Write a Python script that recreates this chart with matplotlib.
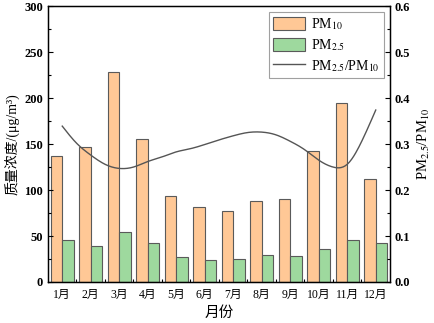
import numpy as np
import matplotlib
matplotlib.use("Agg")
import matplotlib.pyplot as plt
from matplotlib.ticker import MultipleLocator, FixedLocator, FormatStrFormatter

plt.rcParams['font.family'] = ['Liberation Serif', 'Noto Sans CJK SC']
plt.rcParams['mathtext.fontset'] = 'stix'

months = ['1月', '2月', '3月', '4月', '5月', '6月', '7月', '8月', '9月', '10月', '11月', '12月']
pm10 = [137, 147, 228, 155, 94, 82, 77, 88, 90, 142, 195, 112]
pm25 = [46, 39, 54, 42, 27, 24, 25, 29, 28, 36, 46, 42]
# smoothed ratio curve read at half-month steps
curve_pos = [1, 1.5, 2, 2.5, 3, 3.5, 4, 4.5, 5, 5.5, 6, 6.5, 7, 7.5, 8, 8.5, 9, 9.5, 10, 10.5, 11, 11.5, 12]
curve_val = [0.339, 0.302, 0.276, 0.256, 0.247, 0.250, 0.262, 0.272, 0.283, 0.290, 0.299, 0.309,
             0.318, 0.325, 0.326, 0.320, 0.306, 0.288, 0.265, 0.250, 0.256, 0.305, 0.374]


def natural_spline(x, y, xs):
    x = np.asarray(x, float); y = np.asarray(y, float)
    n = len(x)
    h = np.diff(x)
    A = np.zeros((n, n)); b = np.zeros(n)
    A[0, 0] = 1; A[-1, -1] = 1
    for i in range(1, n - 1):
        A[i, i - 1] = h[i - 1]
        A[i, i] = 2 * (h[i - 1] + h[i])
        A[i, i + 1] = h[i]
        b[i] = 3 * ((y[i + 1] - y[i]) / h[i] - (y[i] - y[i - 1]) / h[i - 1])
    c = np.linalg.solve(A, b)
    out = np.empty_like(xs)
    for k, xv in enumerate(xs):
        i = min(max(np.searchsorted(x, xv) - 1, 0), n - 2)
        bi = (y[i + 1] - y[i]) / h[i] - h[i] * (2 * c[i] + c[i + 1]) / 3
        di = (c[i + 1] - c[i]) / (3 * h[i])
        t = xv - x[i]
        out[k] = y[i] + bi * t + c[i] * t ** 2 + di * t ** 3
    return out


fig = plt.figure(figsize=(4.34, 3.23), dpi=100)
ax = fig.add_axes([0.1106, 0.127, 0.788, 0.854])
x = np.arange(1, 13)
w = 0.4
b1 = ax.bar(x - w / 2, pm10, width=w, color='#FFC896', edgecolor='#5a5a5a', linewidth=0.8, label='PM$_{10}$')
b2 = ax.bar(x + w / 2, pm25, width=w, color='#9ED99E', edgecolor='#5a5a5a', linewidth=0.8, label='PM$_{2.5}$')
ax.set_xlim(0.5, 12.5)
ax.set_ylim(0, 300)
ax.yaxis.set_major_locator(MultipleLocator(50))
ax.yaxis.set_minor_locator(MultipleLocator(25))
ax.set_xticks(x)
ax.set_xticklabels(months)
ax.xaxis.set_minor_locator(FixedLocator(np.arange(1.5, 12.5, 1)))
ax.tick_params(axis='both', which='both', direction='in')
ax.tick_params(axis='y', which='major', length=3.5, width=0.8, labelsize=9)
ax.tick_params(axis='y', which='minor', length=2, width=0.8)
ax.tick_params(axis='x', which='major', length=0, labelsize=8.5, pad=5)
ax.tick_params(axis='x', which='minor', length=2, width=0.8)
for lab in ax.get_yticklabels():
    lab.set_fontweight('bold')
for s in ax.spines.values():
    s.set_linewidth(1.0)
ax.set_ylabel('质量浓度/(μg/m³)', fontsize=10, labelpad=3)
ax.set_xlabel('月份', fontsize=10.5, labelpad=4)

ax2 = ax.twinx()
xs = np.linspace(1, 12, 300)
ln, = ax2.plot(xs, natural_spline(curve_pos, curve_val, xs), color='#555555', linewidth=1.0,
               label='PM$_{2.5}$/PM$_{10}$')
ax2.set_ylim(0, 0.6)
ax2.yaxis.set_major_locator(MultipleLocator(0.1))
ax2.yaxis.set_minor_locator(MultipleLocator(0.05))
ax2.yaxis.set_major_formatter(FormatStrFormatter('%.1f'))
ax2.tick_params(axis='y', which='both', direction='in')
ax2.tick_params(axis='y', which='major', length=3.5, width=0.8, labelsize=9)
ax2.tick_params(axis='y', which='minor', length=2, width=0.8)
for lab in ax2.get_yticklabels():
    lab.set_fontweight('bold')
ax2.set_ylabel('PM$_{2.5}$/PM$_{10}$', fontsize=10.5, labelpad=4)

leg = ax2.legend(handles=[b1, b2, ln], loc='upper right', fontsize=10, frameon=True, fancybox=False,
                 edgecolor='#888888', handlelength=2.3, handleheight=1.1, borderpad=0.3,
                 labelspacing=0.35, handletextpad=0.4, borderaxespad=0.45)
leg.get_frame().set_linewidth(0.8)

fig.savefig('out.png', dpi=100)
